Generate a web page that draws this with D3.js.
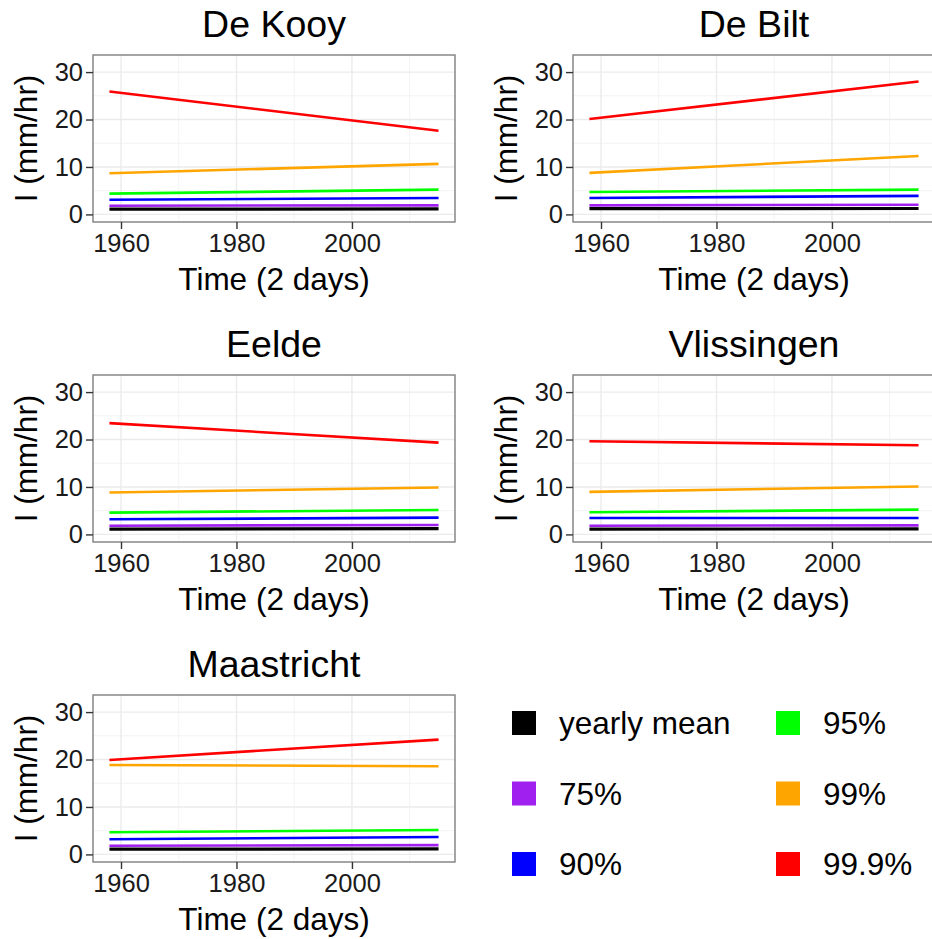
<!DOCTYPE html>
<html>
<head>
<meta charset="utf-8">
<script src="https://cdn.jsdelivr.net/npm/d3@7"></script>
<style>
  html, body { margin: 0; padding: 0; background: #fff; }
  svg { display: block; font-family: "Liberation Sans", Arial, Helvetica, sans-serif; }
</style>
</head>
<body>
<svg id="chart" width="932" height="939"></svg>
<script>
// Rainfall intensity trends (2-day duration) per KNMI station, 1958–2015
const stations = ["De Kooy", "De Bilt", "Eelde", "Vlissingen", "Maastricht"];
const years = [1958, 2015];
const seriesNames = ["yearly mean", "75%", "90%", "95%", "99%", "99.9%"];
const seriesColors = ["#000000", "#A020F0", "#0000FF", "#00FF00", "#FFA500", "#FF0000"];

// [value in 1958, value in 2015], one pair per station (same order as stations)
const yearlyMean = [[1.12, 1.15], [1.20, 1.25], [1.13, 1.20], [1.13, 1.15], [1.10, 1.15]];
const p75        = [[1.84, 1.90], [1.90, 2.05], [1.84, 1.98], [1.84, 1.90], [1.84, 1.95]];
const p90        = [[3.10, 3.45], [3.46, 3.90], [3.18, 3.53], [3.46, 3.46], [3.18, 3.67]];
const p95        = [[4.38, 5.23], [4.73, 5.22], [4.60, 5.15], [4.66, 5.23], [4.66, 5.15]];
const p99        = [[8.69, 10.66], [8.76, 12.30], [8.83, 9.89], [8.97, 10.10], [18.86, 18.57]];
const p999       = [[25.90, 17.65], [20.10, 28.00], [23.45, 19.35], [19.63, 18.78], [19.90, 24.20]];
const seriesValues = [yearlyMean, p75, p90, p95, p99, p999];

const yTicks = [0, 10, 20, 30];
const yMinor = [5, 15, 25];
const xTicks = [1960, 1980, 2000];
const xMinor = [1970, 1990, 2010];
const yLimits = [0, 32];

const xLabel = "Time (2 days)";
const yLabel = "I (mm/hr)";

// layout
const panelW = 362, panelH = 167;
const panelOrigins = [[93, 55], [573, 55], [93, 375], [573, 375], [93, 695]];
const fontFamily = "'Liberation Sans', Arial, sans-serif";

const svg = d3.select("#chart");

// ggplot-like 5% expansion
const xr = years[1] - years[0];
const x = d3.scaleLinear()
  .domain([years[0] - 0.05 * xr, years[1] + 0.05 * xr])
  .range([0, panelW]);
const yr = yLimits[1] - yLimits[0];
const y = d3.scaleLinear()
  .domain([yLimits[0] - 0.05 * yr, yLimits[1] + 0.05 * yr])
  .range([panelH, 0]);

const line = d3.line().x(d => x(d.year)).y(d => y(d.value));

stations.forEach((name, si) => {
  const [ox, oy] = panelOrigins[si];
  const g = svg.append("g").attr("transform", `translate(${ox},${oy})`);

  // panel background
  g.append("rect").attr("width", panelW).attr("height", panelH).attr("fill", "#fff");

  // minor grid
  g.selectAll(".ymin").data(yMinor).enter().append("line")
    .attr("x1", 0).attr("x2", panelW)
    .attr("y1", d => y(d)).attr("y2", d => y(d))
    .attr("stroke", "#f2f2f2").attr("stroke-width", 0.9);
  g.selectAll(".xmin").data(xMinor).enter().append("line")
    .attr("y1", 0).attr("y2", panelH)
    .attr("x1", d => x(d)).attr("x2", d => x(d))
    .attr("stroke", "#f2f2f2").attr("stroke-width", 0.9);

  // major grid
  g.selectAll(".ymaj").data(yTicks).enter().append("line")
    .attr("x1", 0).attr("x2", panelW)
    .attr("y1", d => y(d)).attr("y2", d => y(d))
    .attr("stroke", "#ebebeb").attr("stroke-width", 1.4);
  g.selectAll(".xmaj").data(xTicks).enter().append("line")
    .attr("y1", 0).attr("y2", panelH)
    .attr("x1", d => x(d)).attr("x2", d => x(d))
    .attr("stroke", "#ebebeb").attr("stroke-width", 1.4);

  // series lines
  seriesValues.forEach((vals, k) => {
    const pts = years.map((yr_, i) => ({ year: yr_, value: vals[si][i] }));
    g.append("path")
      .datum(pts)
      .attr("d", line)
      .attr("fill", "none")
      .attr("stroke", seriesColors[k])
      .attr("stroke-width", k === 0 ? 3.2 : 2.6);
  });

  // panel border
  g.append("rect").attr("width", panelW).attr("height", panelH)
    .attr("fill", "none").attr("stroke", "#7f7f7f").attr("stroke-width", 1.4);

  // axes
  const yAxis = d3.axisLeft(y).tickValues(yTicks).tickSize(7).tickPadding(3);
  const xAxis = d3.axisBottom(x).tickValues(xTicks).tickFormat(d3.format("d")).tickSize(7).tickPadding(5);

  const ya = g.append("g").call(yAxis);
  const xa = g.append("g").attr("transform", `translate(0,${panelH})`).call(xAxis);
  [ya, xa].forEach(a => {
    a.select(".domain").remove();
    a.selectAll(".tick line").attr("stroke", "#333").attr("stroke-width", 1.4);
    a.selectAll(".tick text").attr("fill", "#1a1a1a").attr("font-size", 25.5)
      .attr("font-family", fontFamily);
  });

  // titles
  g.append("text")
    .attr("x", panelW / 2).attr("y", -18)
    .attr("text-anchor", "middle").attr("font-size", 37.5).attr("fill", "#000")
    .text(name);
  g.append("text")
    .attr("x", panelW / 2).attr("y", panelH + 68)
    .attr("text-anchor", "middle").attr("font-size", 31.5).attr("fill", "#000")
    .text(xLabel);
  g.append("text")
    .attr("transform", `translate(-56,${panelH / 2}) rotate(-90)`)
    .attr("text-anchor", "middle").attr("font-size", 31.5).attr("fill", "#000")
    .text(yLabel);
});

// legend: two columns of three
const legendCols = [512, 776];
const legendRows = [723, 793.5, 864];
const legend = svg.append("g");
seriesNames.forEach((s, i) => {
  const col = Math.floor(i / 3), row = i % 3;
  const lx = legendCols[col], ly = legendRows[row];
  legend.append("rect")
    .attr("x", lx).attr("y", ly - 12).attr("width", 24).attr("height", 24)
    .attr("fill", seriesColors[i]);
  legend.append("text")
    .attr("x", lx + 47).attr("y", ly).attr("dy", "0.36em")
    .attr("font-size", 31.5).attr("fill", "#000")
    .text(s);
});
</script>
</body>
</html>
